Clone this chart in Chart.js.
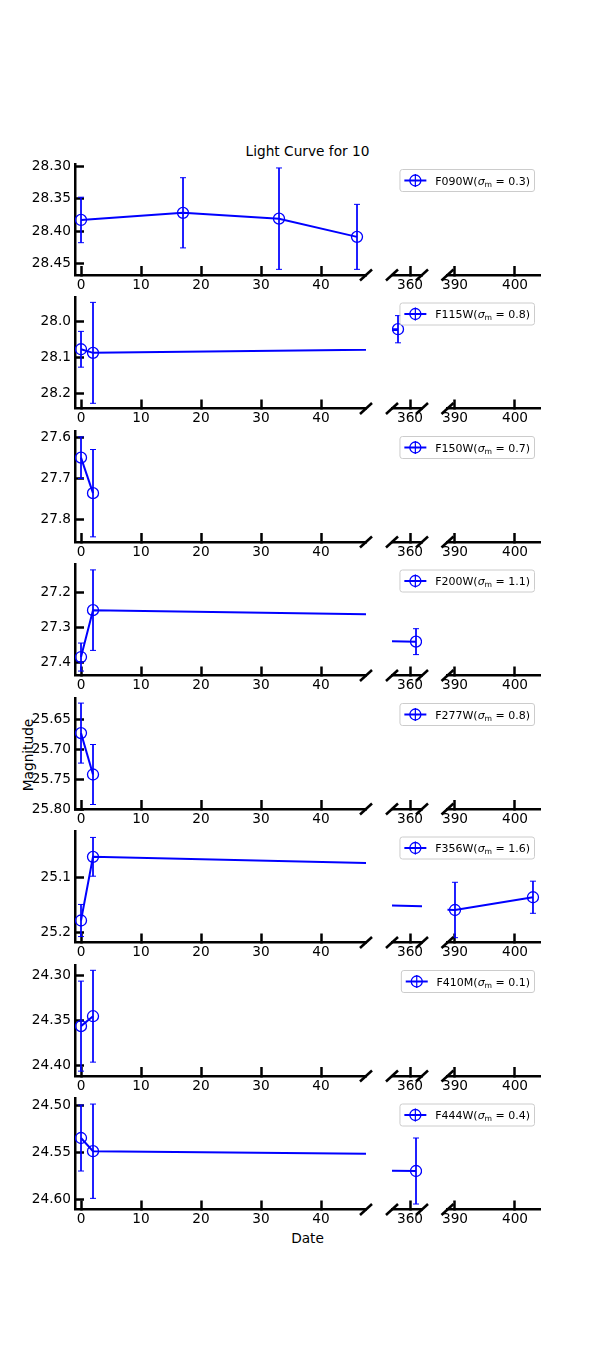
<!DOCTYPE html>
<html>
<head>
<meta charset="utf-8">
<script src="https://cdn.jsdelivr.net/npm/chart.js@4.4.0/dist/chart.umd.min.js"></script>
<style>
  html, body { margin: 0; padding: 0; background: #ffffff; }
  body { width: 600px; height: 1360px; position: relative; overflow: hidden; }
  canvas { position: absolute; left: 0; }
  .lbl { position: absolute; font-family: "DejaVu Sans", sans-serif; font-size: 13.7px; line-height: 16px; color: #000; white-space: nowrap; }
</style>
</head>
<body>
<div class="lbl" id="title" style="left:307.5px; top:143.3px; transform:translateX(-50%);">Light Curve for 10</div>
<div class="lbl" id="ylabel" style="left:27.5px; top:755px; transform:translate(-50%,-50%) rotate(-90deg);">Magnitude</div>
<div class="lbl" id="xlabel" style="left:307.5px; top:1229.5px; transform:translateX(-50%);">Date</div>
<script>
// ---------------- data ----------------
const filters = ['F090W', 'F115W', 'F150W', 'F200W', 'F277W', 'F356W', 'F410M', 'F444W'];
const sigmas = [0.3, 0.8, 0.7, 1.1, 0.8, 1.6, 0.1, 0.4];
const dates = [
  [0, 17, 33, 46],
  [0, 2, 358],
  [0, 2],
  [0, 2, 361],
  [0, 2],
  [0, 2, 390, 403],
  [0, 2],
  [0, 2, 361]
];
const mags = [
  [28.383, 28.372, 28.381, 28.409],
  [28.077, 28.087, 28.021],
  [27.649, 27.736],
  [27.385, 27.251, 27.341],
  [25.673, 25.742],
  [25.178, 25.063, 25.159, 25.136],
  [24.356, 24.345],
  [24.535, 24.549, 24.570]
];
const magErrs = [
  [0.035, 0.054, 0.078, 0.050],
  [0.050, 0.141, 0.038],
  [0.051, 0.107],
  [0.040, 0.115, 0.037],
  [0.050, 0.050],
  [0.029, 0.035, 0.050, 0.029],
  [0.050, 0.051],
  [0.035, 0.050, 0.035]
];
const yLimits = [
  [28.2969, 28.4677],
  [27.9324, 28.2425],
  [27.5836, 27.8556],
  [27.1206, 27.4377],
  [25.6145, 25.7995],
  [25.0173, 25.2177],
  [24.2881, 24.4114],
  [24.4931, 24.6108]
];
const yTickValues = [
  [28.30, 28.35, 28.40, 28.45],
  [28.0, 28.1, 28.2],
  [27.6, 27.7, 27.8],
  [27.2, 27.3, 27.4],
  [25.65, 25.70, 25.75, 25.80],
  [25.1, 25.2],
  [24.30, 24.35, 24.40],
  [24.50, 24.55, 24.60]
];
const yTickLabels = [
  ['28.30', '28.35', '28.40', '28.45'],
  ['28.0', '28.1', '28.2'],
  ['27.6', '27.7', '27.8'],
  ['27.2', '27.3', '27.4'],
  ['25.65', '25.70', '25.75', '25.80'],
  ['25.1', '25.2'],
  ['24.30', '24.35', '24.40'],
  ['24.50', '24.55', '24.60']
];
const xLimits = [[-1, 47.5], [357, 362], [388.75, 404.17]];
const xTickValues = [[0, 10, 20, 30, 40], [360], [390, 400]];
const xTickLabels = [['0', '10', '20', '30', '40'], ['360'], ['390', '400']];

// ---------------- layout ----------------
const plotTops = [164, 297.5, 431, 564.5, 698, 831.5, 965, 1098.5];
const plotH = 111;
const segPx = [[75, 366], [392, 422], [447.5, 540]];
const PAD_TOP = 14;
const BELOW = 30;
const BLUE = '#0000ff';

Chart.defaults.font.family = '"DejaVu Sans", sans-serif';
Chart.defaults.font.size = 13.7;
Chart.defaults.color = '#000000';

function drawLegend(ctx, a, p) {
  const fs = 11;
  const fam = '"DejaVu Sans", sans-serif';
  const pieces = [
    { t: filters[p] + '(', f: fs + 'px ' + fam, dy: 0 },
    { t: '\u03c3', f: 'italic ' + fs + 'px ' + fam, dy: 0 },
    { t: 'm', f: (fs * 0.7).toFixed(2) + 'px ' + fam, dy: 2.4 },
    { t: ' = ' + sigmas[p].toFixed(1) + ')', f: fs + 'px ' + fam, dy: 0 }
  ];
  let textW = 0;
  pieces.forEach(pc => { ctx.font = pc.f; pc.w = ctx.measureText(pc.t).width; textW += pc.w; });
  const pad = 4.4, handleLen = 22, handleGap = 8.8;
  const boxW = pad + handleLen + handleGap + textW + pad;
  const boxH = 22;
  const boxRight = a.right - 5.5;
  const boxLeft = boxRight - boxW;
  const boxTop = a.top + 5.5;
  ctx.save();
  ctx.beginPath();
  ctx.roundRect(boxLeft, boxTop, boxW, boxH, 2.5);
  ctx.fillStyle = 'rgba(255,255,255,0.8)';
  ctx.fill();
  ctx.lineWidth = 1;
  ctx.strokeStyle = '#cccccc';
  ctx.stroke();
  const cy = boxTop + boxH / 2;
  const x0 = boxLeft + pad;
  ctx.strokeStyle = BLUE;
  ctx.lineWidth = 2;
  ctx.beginPath(); ctx.moveTo(x0, cy); ctx.lineTo(x0 + handleLen, cy); ctx.stroke();
  ctx.lineWidth = 1.3;
  ctx.beginPath(); ctx.arc(x0 + handleLen / 2, cy, 5.5, 0, Math.PI * 2); ctx.stroke();
  ctx.lineWidth = 1.2;
  ctx.beginPath(); ctx.moveTo(x0 + handleLen / 2, cy - 6.5); ctx.lineTo(x0 + handleLen / 2, cy + 6.5); ctx.stroke();
  let tx = x0 + handleLen + handleGap;
  ctx.fillStyle = '#000000';
  ctx.textBaseline = 'alphabetic';
  ctx.textAlign = 'left';
  pieces.forEach(pc => { ctx.font = pc.f; ctx.fillText(pc.t, tx, cy + 4 + pc.dy); tx += pc.w; });
  ctx.restore();
}

const decor = {
  id: 'decor',
  afterDraw(chart, args, opts) {
    const ctx = chart.ctx, a = chart.chartArea;
    ctx.save();
    ctx.strokeStyle = '#000000';
    ctx.lineWidth = 2.5;
    const diag = x => {
      ctx.beginPath();
      ctx.moveTo(x - 6, a.bottom + 5.5);
      ctx.lineTo(x + 6, a.bottom - 5.5);
      ctx.stroke();
    };
    if (opts.seg > 0) diag(a.left);
    if (opts.seg < 2) diag(a.right);
    ctx.restore();
    if (opts.seg === 2) drawLegend(ctx, a, opts.panel);
  }
};

for (let p = 0; p < filters.length; p++) {
  for (let s = 0; s < 3; s++) {
    const canvasTop = Math.floor(plotTops[p]) - PAD_TOP;
    const padTop = plotTops[p] - canvasTop;
    const H = PAD_TOP + plotH + BELOW;
    const cv = document.createElement('canvas');
    cv.width = 600; cv.height = H;
    cv.style.top = canvasTop + 'px';
    cv.style.width = '600px'; cv.style.height = H + 'px';
    document.body.appendChild(cv);

    const mainData = dates[p].map((d, i) => ({ x: d, y: mags[p][i] }));
    const errData = [];
    dates[p].forEach((d, i) => {
      errData.push({ x: d, y: mags[p][i] - magErrs[p][i] });
      errData.push({ x: d, y: mags[p][i] + magErrs[p][i] });
      errData.push({ x: d, y: null });
    });

    new Chart(cv, {
      type: 'line',
      data: {
        datasets: [
          {
            data: mainData,
            borderColor: BLUE, borderWidth: 2, tension: 0, fill: false,
            pointStyle: 'circle', pointRadius: 5.5, pointBorderWidth: 1.3,
            pointBorderColor: BLUE, pointBackgroundColor: 'rgba(0,0,0,0)'
          },
          {
            data: errData,
            borderColor: BLUE, borderWidth: 1, tension: 0, fill: false, spanGaps: false,
            pointStyle: 'line', pointRadius: 3, pointBorderWidth: 1,
            pointBorderColor: BLUE, pointBackgroundColor: BLUE
          }
        ]
      },
      options: {
        responsive: false,
        animation: false,
        events: [],
        layout: { autoPadding: false, padding: { top: padTop, bottom: 0, left: s === 0 ? 0 : segPx[s][0], right: 600 - segPx[s][1] } },
        plugins: { legend: { display: false }, tooltip: { enabled: false }, decor: { seg: s, panel: p } },
        scales: {
          x: {
            type: 'linear', min: xLimits[s][0], max: xLimits[s][1],
            afterBuildTicks: sc => { sc.ticks = xTickValues[s].map(v => ({ value: v })); },
            afterFit: sc => { sc.height = H - padTop - plotH; sc.paddingLeft = 0; sc.paddingRight = 0; },
            grid: { drawOnChartArea: false, drawTicks: true, tickLength: -9, tickWidth: 2.5, tickColor: '#000000' },
            border: { display: true, width: 2.5, color: '#000000' },
            ticks: { padding: 11, autoSkip: false, maxRotation: 0, minRotation: 0,
              callback: (v, i) => xTickLabels[s][i] }
          },
          y: {
            type: 'linear', reverse: true, min: yLimits[p][0], max: yLimits[p][1],
            display: s === 0,
            afterBuildTicks: sc => { sc.ticks = yTickValues[p].map(v => ({ value: v })); },
            afterFit: sc => { sc.width = s === 0 ? 75 : 0; sc.paddingTop = 0; sc.paddingBottom = 0; },
            grid: { drawOnChartArea: false, drawTicks: true, tickLength: -9, tickWidth: 2.5, tickColor: '#000000' },
            border: { display: true, width: 2.5, color: '#000000' },
            ticks: { padding: 13, autoSkip: false, callback: (v, i) => yTickLabels[p][i] }
          }
        }
      },
      plugins: [decor]
    });
  }
}
</script>
</body>
</html>
